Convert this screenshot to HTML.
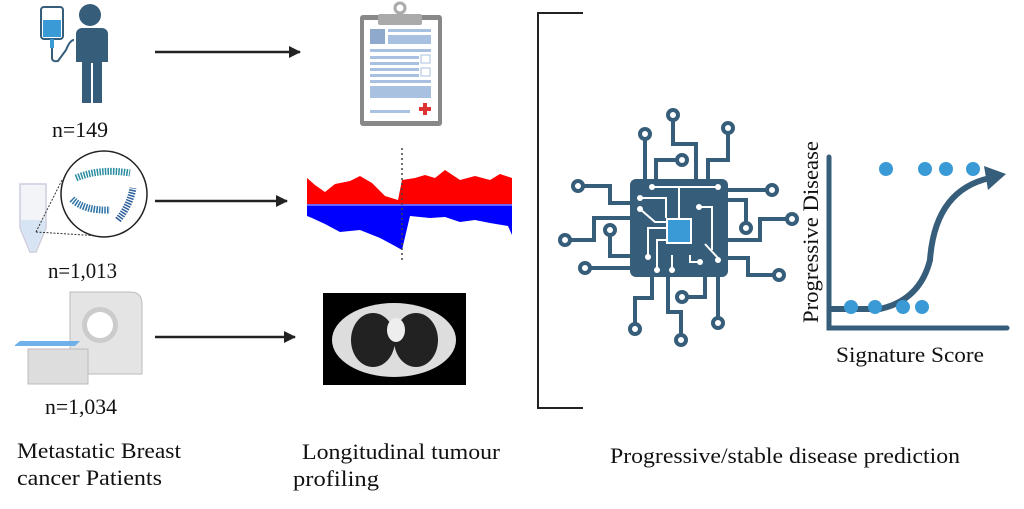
<!DOCTYPE html>
<html><head><meta charset="utf-8"><style>
html,body{margin:0;padding:0;background:#fff;}
svg{display:block;}
text{font-family:"Liberation Serif",serif;fill:#111;}
</style></head><body>
<svg width="1024" height="509" viewBox="0 0 1024 509" xmlns="http://www.w3.org/2000/svg">
<defs>
<marker id="ah" markerWidth="12" markerHeight="12" refX="11" refY="6" orient="auto" markerUnits="userSpaceOnUse"><path d="M0,0 L12,6 L0,12 z" fill="#222"/></marker>
</defs>
<!-- IV + person -->
<g fill="#365d7a">
<rect x="41" y="7" width="22" height="32" rx="3" fill="#fff" stroke="#365d7a" stroke-width="2"/>
<rect x="43" y="20" width="18" height="17" fill="#3a9ad6"/>
<rect x="50" y="39" width="4" height="9" fill="#3a9ad6"/>
<path d="M52,48 L52,58 Q52,62 58,61 L66,50 Q70,40 74,40" fill="none" stroke="#365d7a" stroke-width="2"/>
<circle cx="90" cy="15" r="11"/>
<path d="M76,28 h28 a6,6 0 0 1 6,6 v28 h-6 v41 h-9 v-40 h-2 v40 h-9 v-41 h-6 v-28 a6,6 0 0 1 6,-6 z" transform="translate(-2,0)"/>
</g>
<line x1="155" y1="52" x2="300" y2="52" stroke="#222" stroke-width="2.5" marker-end="url(#ah)"/>
<!-- clipboard -->
<rect x="360" y="15" width="82" height="111" rx="3" fill="#888"/>
<rect x="364" y="20" width="74" height="101" fill="#fff"/>
<rect x="378" y="14" width="44" height="11" rx="2" fill="#aaa"/>
<circle cx="400" cy="8" r="5" fill="none" stroke="#aaa" stroke-width="3"/>
<g fill="#a9c1e0">
<rect x="370" y="29" width="15" height="15" fill="#8fa9cd"/>
<rect x="388" y="29" width="43" height="3"/><rect x="388" y="35" width="43" height="9"/>
<rect x="370" y="49" width="61" height="3"/><rect x="370" y="56" width="49" height="3"/><rect x="370" y="62" width="49" height="3"/>
<rect x="370" y="68" width="49" height="3"/><rect x="370" y="74" width="49" height="3"/><rect x="370" y="80" width="61" height="3"/>
<rect x="370" y="86" width="61" height="12"/><rect x="370" y="110" width="40" height="3"/>
<rect x="421" y="55" width="9" height="8" fill="none" stroke="#a9c1e0"/><rect x="421" y="68" width="9" height="8" fill="none" stroke="#a9c1e0"/>
</g>
<path d="M419,109 h12 M425,103 v12" stroke="#d33" stroke-width="4"/>
<text x="52" y="137" font-size="22" textLength="56" lengthAdjust="spacingAndGlyphs">n=149</text>
<!-- tube + circle -->
<path d="M20,184 h26 v44 l-10,24 h-6 l-10,-24 z" fill="#f2f4f8" stroke="#ccd" stroke-width="1.5"/>
<path d="M21,220 h24 v8 l-10,23 h-4 l-10,-23z" fill="#d6e4f3"/>
<line x1="36" y1="232" x2="62" y2="180" stroke="#333" stroke-dasharray="2,1.5"/>
<line x1="36" y1="232" x2="100" y2="236" stroke="#333" stroke-dasharray="2,1.5"/>
<circle cx="104" cy="194" r="43" fill="#fff" stroke="#222" stroke-width="1.5"/>
<g fill="none" stroke-width="7" stroke-dasharray="1.5,1.2">
<path d="M76,178 Q100,168 130,173" stroke="#2a8ca0"/>
<path d="M72,199 Q84,211 110,210" stroke="#2f74a8"/>
<path d="M118,220 Q130,205 133,188" stroke="#2b5d9a"/>
</g>
<line x1="155" y1="201" x2="287" y2="201" stroke="#222" stroke-width="2.5" marker-end="url(#ah)"/>
<!-- CNV -->
<path d="M307,178 L315,185 325,192 335,184 350,181 360,176 372,183 385,196 398,200 402,180 415,178 425,175 435,178 445,170 460,180 475,176 490,180 500,174 512,178 L512,204 L307,204 z" fill="#f00"/>
<path d="M307,206 L512,206 512,235 508,226 490,223 475,220 460,222 445,217 430,218 410,216 402,250 395,246 380,238 360,230 340,232 325,224 312,218 307,216 z" fill="#00f"/>
<line x1="307" y1="205" x2="512" y2="205" stroke="#66f" stroke-width="2"/>
<line x1="402" y1="148" x2="402" y2="262" stroke="#444" stroke-width="1.5" stroke-dasharray="2,3"/>
<text x="48" y="278" font-size="22" textLength="69" lengthAdjust="spacingAndGlyphs">n=1,013</text>
<!-- CT scanner -->
<path d="M70,292 h60 q12,0 12,12 v70 h-72 z" fill="#e4e4e4" stroke="#bbb"/>
<circle cx="100" cy="325" r="18" fill="#ccc"/><circle cx="100" cy="325" r="13" fill="#fff"/>
<path d="M15,345 l5,-4 h60 l-5,5 h-60z" fill="#6fb0e8"/>
<path d="M28,349 h60 v35 h-60z" fill="#ddd" stroke="#bbb"/>
<line x1="155" y1="337" x2="295" y2="337" stroke="#222" stroke-width="2.5" marker-end="url(#ah)"/>
<!-- CT image -->
<rect x="323" y="293" width="143" height="92" fill="#000"/>
<ellipse cx="394" cy="340" rx="62" ry="37" fill="#ddd"/>
<ellipse cx="373" cy="340" rx="22" ry="27" fill="#222"/>
<ellipse cx="416" cy="340" rx="22" ry="27" fill="#222"/>
<ellipse cx="396" cy="330" rx="9" ry="12" fill="#eee"/>
<text x="45" y="414" font-size="22" textLength="72" lengthAdjust="spacingAndGlyphs">n=1,034</text>
<!-- bracket -->
<path d="M583,13 H538 V408 H583" fill="none" stroke="#222" stroke-width="2"/>
<!-- chip -->
<g stroke="#365d7a" stroke-width="4" fill="none" stroke-linejoin="miter">
<path d="M673,121 V144 H696 V179"/>
<path d="M645,140 V179"/>
<path d="M728,134 V160 H708 V179"/>
<path d="M676,160 H656 V179"/>
<path d="M584,186 H610 V203 H630"/>
<path d="M571,240 H594 V218 H630"/>
<path d="M610,236 V256 H630"/>
<path d="M591,268 H630"/>
<path d="M766,190 H728"/>
<path d="M786,219 H760 V240 H728"/>
<path d="M746,222 V200 H728"/>
<path d="M773,275 H748 V258 H728"/>
<path d="M635,323 V298 H652 V277"/>
<path d="M681,334 V312 H668 V277"/>
<path d="M718,317 V277"/>
<path d="M688,297 H705 V277"/>
</g>
<g fill="#fff" stroke="#365d7a" stroke-width="4">
<circle cx="673" cy="115" r="5"/><circle cx="645" cy="134" r="5"/><circle cx="728" cy="128" r="5"/><circle cx="682" cy="160" r="5"/>
<circle cx="578" cy="186" r="5"/><circle cx="565" cy="240" r="5"/><circle cx="610" cy="230" r="5"/><circle cx="585" cy="268" r="5"/>
<circle cx="772" cy="190" r="5"/><circle cx="792" cy="219" r="5"/><circle cx="746" cy="228" r="5"/><circle cx="779" cy="275" r="5"/>
<circle cx="635" cy="329" r="5"/><circle cx="681" cy="340" r="5"/><circle cx="718" cy="323" r="5"/><circle cx="682" cy="297" r="5"/>
</g>
<path d="M636,179 h86 a6,6 0 0 1 6,6 v86 a6,6 0 0 1 -6,6 h-86 a6,6 0 0 1 -6,-6 v-86 a6,6 0 0 1 6,-6z" fill="#365d7a"/>
<g stroke="#fff" stroke-width="2" fill="none">
<path d="M652,187 H718 M640,198 H666 V218 M640,209 L655,222 H668 M699,207 H712 V250 M648,257 V228 H668 M657,270 V240 H668 M672,270 L672,255 M690,255 V262 H700 M705,244 L718,258 M679,187 V220"/>
</g>
<g fill="#fff"><circle cx="652" cy="187" r="3"/><circle cx="718" cy="187" r="3"/><circle cx="640" cy="198" r="3"/><circle cx="640" cy="209" r="3"/><circle cx="699" cy="207" r="3"/><circle cx="648" cy="257" r="3"/><circle cx="657" cy="270" r="3"/><circle cx="672" cy="270" r="3"/><circle cx="700" cy="262" r="3"/><circle cx="718" cy="260" r="3"/></g>
<rect x="667" y="219" width="24" height="24" fill="#3a9ad6" stroke="#fff" stroke-width="2"/>
<!-- plot -->
<path d="M829,157 V328 H1007" fill="none" stroke="#365d7a" stroke-width="5" stroke-linecap="round"/>
<path d="M829,309 H880 Q920,300 930,260 Q935,190 990,178" fill="none" stroke="#365d7a" stroke-width="6"/>
<path d="M984,166 L1006,174 L988,190 z" fill="#365d7a"/>
<g fill="#3a9ad6"><circle cx="886" cy="169" r="7"/><circle cx="925" cy="169" r="7"/><circle cx="946" cy="169" r="7"/><circle cx="973" cy="169" r="7"/>
<circle cx="851" cy="307" r="7"/><circle cx="875" cy="307" r="7"/><circle cx="903" cy="307" r="7"/><circle cx="922" cy="307" r="7"/></g>
<text transform="translate(818,323) rotate(-90)" font-size="22" textLength="182" lengthAdjust="spacingAndGlyphs">Progressive Disease</text>
<text x="836" y="362" font-size="22" textLength="148" lengthAdjust="spacingAndGlyphs">Signature Score</text>
<!-- labels -->
<text x="17" y="458" font-size="22" textLength="164" lengthAdjust="spacingAndGlyphs">Metastatic Breast</text>
<text x="17" y="485" font-size="22" textLength="145" lengthAdjust="spacingAndGlyphs">cancer Patients</text>
<text x="302" y="459" font-size="22" textLength="198" lengthAdjust="spacingAndGlyphs">Longitudinal tumour</text>
<text x="293" y="486" font-size="22" textLength="86" lengthAdjust="spacingAndGlyphs">profiling</text>
<text x="610" y="463" font-size="22" textLength="350" lengthAdjust="spacingAndGlyphs">Progressive/stable disease prediction</text>
</svg>
</body></html>
